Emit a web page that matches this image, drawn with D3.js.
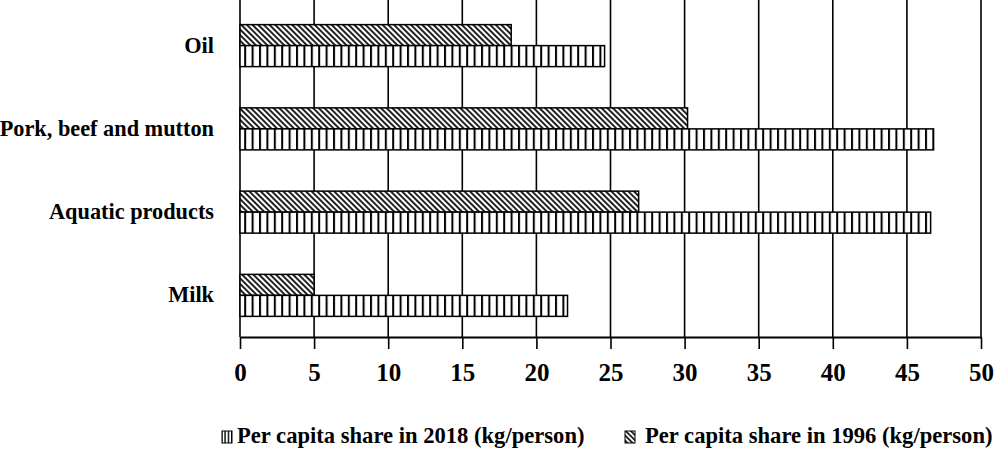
<!DOCTYPE html>
<html>
<head>
<meta charset="utf-8">
<script src="https://cdn.jsdelivr.net/npm/d3@7"></script>
<style>
  html, body { margin: 0; padding: 0; background: #fff; }
  svg { display: block; font-family: "Liberation Serif", "Times New Roman", serif; font-weight: bold; }
</style>
</head>
<body>
<svg id="chart" width="998" height="450"></svg>
<script>
// Per capita share of selected foods (kg/person)
const categories = ["Oil", "Pork, beef and mutton", "Aquatic products", "Milk"];
const values1996 = [18.3, 30.2, 26.9, 5.0];
const values2018 = [24.6, 46.8, 46.6, 22.1];
const xTicks = [0, 5, 10, 15, 20, 25, 30, 35, 40, 45, 50];
const seriesNames = ["Per capita share in 2018 (kg/person)", "Per capita share in 1996 (kg/person)"];

const svg = d3.select("#chart");
const plot = { left: 240, right: 981, top: 4, bottom: 337 };

const x = d3.scaleLinear().domain([0, 50]).range([plot.left, plot.right]);
const y = d3.scaleBand().domain(categories).range([plot.top, plot.bottom]);
const barH = 21;

// fill patterns: vertical stripes (2018) and back-diagonal hatching (1996)
const defs = svg.append("defs");
function vPattern(id, step, w) {
  const p = defs.append("pattern").attr("id", id)
    .attr("patternUnits", "userSpaceOnUse").attr("width", step).attr("height", 10);
  p.append("rect").attr("width", step).attr("height", 10).attr("fill", "#fff");
  p.append("rect").attr("x", 0).attr("width", w).attr("height", 10).attr("fill", "#000");
}
function dPattern(id, step, w) {
  const p = defs.append("pattern").attr("id", id)
    .attr("patternUnits", "userSpaceOnUse").attr("width", step).attr("height", step)
    .attr("patternTransform", "rotate(-45)");
  p.append("rect").attr("width", step).attr("height", step).attr("fill", "#fff");
  p.append("rect").attr("width", w).attr("height", step).attr("fill", "#222");
}
vPattern("vlines", 7.4, 2);
dPattern("dlines", 4, 2);
vPattern("vlinesKey", 3.3, 1.4);
dPattern("dlinesKey", 3.6, 1.8);

// vertical gridlines
svg.append("g").selectAll("line").data(xTicks).join("line")
  .attr("x1", d => x(d)).attr("x2", d => x(d))
  .attr("y1", 0).attr("y2", plot.bottom)
  .attr("stroke", "#000").attr("stroke-width", 1.6);

// bottom axis
const axis = svg.append("g").attr("transform", `translate(0,${plot.bottom})`)
  .call(d3.axisBottom(x).tickValues(xTicks).tickSize(12).tickPadding(14).tickSizeOuter(0));
axis.select(".domain").attr("stroke", "#000").attr("stroke-width", 2.2);
axis.selectAll(".tick line").attr("stroke", "#000").attr("stroke-width", 1.6);
axis.selectAll(".tick text")
  .attr("font-family", "'Liberation Serif', serif")
  .attr("font-weight", "bold")
  .attr("font-size", 25)
  .attr("fill", "#000");

// bars
const g = svg.append("g");
g.selectAll("rect.y1996").data(categories).join("rect")
  .attr("class", "y1996")
  .attr("x", x(0))
  .attr("y", d => y(d) + y.bandwidth() / 2 - barH)
  .attr("width", (d, i) => x(values1996[i]) - x(0))
  .attr("height", barH)
  .attr("fill", "url(#dlines)")
  .attr("stroke", "#000").attr("stroke-width", 1.5);

g.selectAll("rect.y2018").data(categories).join("rect")
  .attr("class", "y2018")
  .attr("x", x(0))
  .attr("y", d => y(d) + y.bandwidth() / 2)
  .attr("width", (d, i) => x(values2018[i]) - x(0))
  .attr("height", barH)
  .attr("fill", "url(#vlines)")
  .attr("stroke", "#000").attr("stroke-width", 1.5);

// category labels
svg.append("g").selectAll("text").data(categories).join("text")
  .attr("x", 214)
  .attr("y", d => y(d) + y.bandwidth() / 2 + 7)
  .attr("text-anchor", "end")
  .attr("font-size", 22.3)
  .attr("fill", "#000")
  .text(d => d);

// legend
const legend = svg.append("g");
const legendItems = [
  { name: seriesNames[0], fill: "url(#vlinesKey)", sx: 222, tx: 237 },
  { name: seriesNames[1], fill: "url(#dlinesKey)", sx: 625, tx: 645 }
];
legendItems.forEach(it => {
  legend.append("rect").attr("x", it.sx).attr("y", 431).attr("width", 10).attr("height", 12)
    .attr("fill", it.fill).attr("stroke", "#000").attr("stroke-width", 1);
  legend.append("text").attr("x", it.tx).attr("y", 443)
    .attr("font-size", 22.6).attr("fill", "#000").text(it.name);
});
</script>
</body>
</html>
